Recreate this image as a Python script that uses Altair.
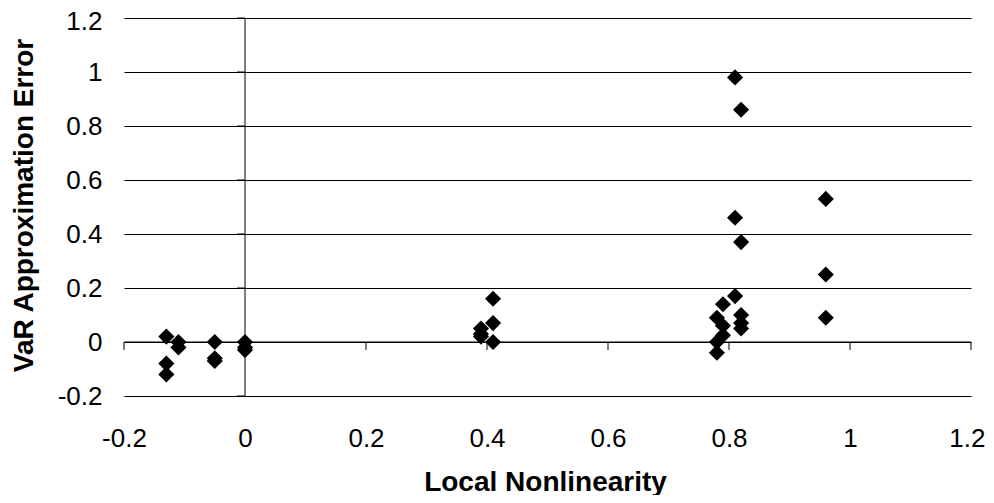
import altair as alt
import pandas as pd

# Scatter data
x_vals = [-0.13, -0.13, -0.13, -0.11, -0.11, -0.05, -0.05, -0.05, 0.0, 0.0, 0.0,
          0.41, 0.41, 0.39, 0.39, 0.41, 0.39,
          0.81, 0.82, 0.81, 0.82, 0.81, 0.79, 0.78, 0.82, 0.82, 0.82, 0.79, 0.79, 0.78, 0.78,
          0.96, 0.96, 0.96]
y_vals = [0.02, -0.08, -0.12, 0.0, -0.02, 0.0, -0.06, -0.07, 0.0, -0.02, -0.03,
          0.16, 0.07, 0.05, 0.02, 0.0, 0.03,
          0.98, 0.86, 0.46, 0.37, 0.17, 0.14, 0.09, 0.10, 0.07, 0.05, 0.06, 0.025, 0.0, -0.04,
          0.53, 0.25, 0.09]

x_ticks = [-0.2, 0, 0.2, 0.4, 0.6, 0.8, 1, 1.2]
y_ticks = [-0.2, 0, 0.2, 0.4, 0.6, 0.8, 1, 1.2]

x_title = "Local Nonlinearity"
y_title = "VaR Approximation Error"

pts = pd.DataFrame({"x": x_vals, "y": y_vals})
xt = pd.DataFrame({"v": x_ticks})
yt = pd.DataFrame({"v": y_ticks})

FONT = "Liberation Sans"
W, H = 847, 378

xscale = alt.Scale(domain=[-0.2, 1.2], nice=False, zero=False)
yscale = alt.Scale(domain=[-0.2, 1.2], nice=False, zero=False)

last_v = "datum.value >= 1.19"

points = alt.Chart(pts).mark_point(
    shape="diamond", filled=True, size=260, color="black", opacity=1
).encode(
    x=alt.X("x:Q", scale=xscale, title=x_title,
            axis=alt.Axis(values=x_ticks, labelExpr="'' + datum.value",
                          domain=False, ticks=False, tickSize=0, grid=False,
                          labelFlush=False, labelOverlap=False,
                          labelAlign={"condition": {"test": last_v, "value": "right"},
                                      "value": "center"},
                          labelOffset={"condition": {"test": last_v, "value": 14},
                                       "value": 0},
                          labelPadding=29, labelFontSize=26, labelFont=FONT,
                          labelColor="black", titleFont=FONT, titleFontSize=28,
                          titleFontWeight="bold", titleColor="black",
                          titleBaseline="alphabetic", titleY=94, titleX=421)),
    y=alt.Y("y:Q", scale=yscale, title=y_title,
            axis=alt.Axis(values=y_ticks, labelExpr="'' + datum.value",
                          domain=False, ticks=False, tickSize=0, grid=True,
                          gridColor="black", gridWidth=1, gridOpacity=1,
                          labelFlush=False, labelOverlap=False,
                          labelOffset={"condition": {"test": last_v, "value": 3},
                                       "value": 0},
                          labelPadding=22, labelFontSize=26, labelFont=FONT,
                          labelColor="black", titleFont=FONT, titleFontSize=28,
                          titleFontWeight="bold", titleColor="black",
                          titleBaseline="alphabetic", titleX=-92, titleY=187,
                          titleAngle=-90)),
)

hline = alt.Chart(pts).mark_rule(color="black", strokeWidth=1).encode(
    y=alt.Y("z:Q", scale=yscale)
).transform_calculate(z="0").transform_aggregate(z="max(z)")

vline = alt.Chart(pts).mark_rule(color="black", strokeWidth=1).encode(
    x=alt.X("z:Q", scale=xscale)
).transform_calculate(z="0").transform_aggregate(z="max(z)")

xticks = alt.Chart(xt).mark_tick(
    orient="vertical", size=8, thickness=1, color="black", yOffset=4, opacity=1
).encode(
    x=alt.X("v:Q", scale=xscale),
    y=alt.datum(0, scale=yscale),
)

yticks = alt.Chart(yt).mark_tick(
    orient="horizontal", size=8, thickness=1, color="black", xOffset=-4, opacity=1
).encode(
    y=alt.Y("v:Q", scale=yscale),
    x=alt.datum(0, scale=xscale),
)

chart = alt.layer(hline, vline, xticks, yticks, points).properties(
    width=W, height=H,
    autosize=alt.AutoSizeParams(type="none"),
    padding={"left": 116, "top": 10, "right": 15, "bottom": 99},
    background="white",
).configure_view(stroke=None)

chart.save("out.html", embed_options={"renderer": "svg", "actions": False})
